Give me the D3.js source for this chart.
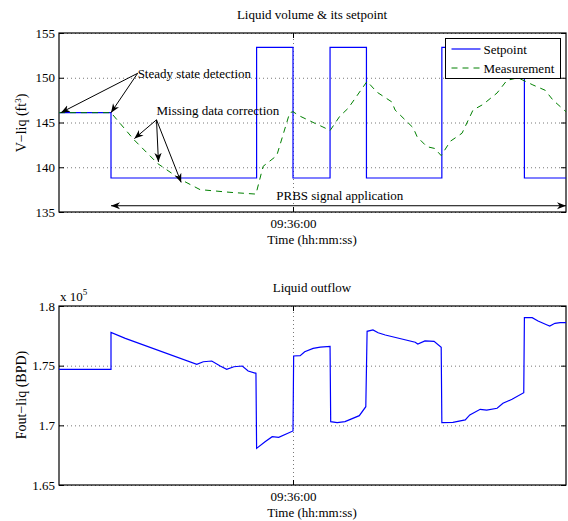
<!DOCTYPE html>
<html>
<head>
<meta charset="utf-8">
<script src="https://cdn.jsdelivr.net/npm/d3@7"></script>
<style>
  body { margin: 0; background: #fff; }
  svg text { font-family: 'Liberation Serif', 'Times New Roman', Times, 'DejaVu Serif', serif !important; fill: #000; }
</style>
</head>
<body>
<svg id="drawing_region"></svg>
<script>
// time is seconds after t0
const t0 = "09:30:00";
const tEnd = 780;
const xTickLabels = ["09:36:00"];

// setpoint (step)
const spTime  = [0, 80, 304, 360, 417, 473, 589, 716, 780];
const spValue = [146.1, 138.8, 153.4, 138.8, 153.4, 138.8, 153.4, 138.8, 138.8];

// measurement
const mTime  = [0, 80, 115, 152, 188, 217, 263, 303, 314, 335, 355, 360, 371, 394, 406, 417, 432, 445, 474, 489, 512, 517, 545, 551, 566, 578, 588, 602, 620, 637, 652, 674, 689, 706, 729, 748, 760, 780];
const mValue = [146.1, 146.1, 143.1, 140.4, 138.6, 137.5, 137.2, 137.0, 140.1, 141.3, 146.1, 146.2, 145.7, 144.9, 144.5, 144.1, 145.7, 146.6, 149.6, 148.4, 147.3, 146.4, 144.4, 143.4, 142.3, 142.1, 141.3, 142.9, 143.8, 146.4, 147.0, 148.3, 149.7, 150.0, 149.2, 148.6, 147.5, 146.2];

// liquid outflow
const fTime  = [0, 80, 80, 102, 212, 222, 235, 248, 258, 269, 282, 291, 303, 304, 317, 328, 338, 360, 361, 371, 378, 391, 402, 417, 418, 428, 440, 462, 472, 474, 483, 491, 502, 548, 552, 563, 577, 588, 589, 606, 625, 632, 648, 658, 674, 683, 697, 715, 716, 728, 737, 751, 755, 763, 771, 780];
const fValue = [174690, 174690, 177790, 177290, 175110, 175330, 175390, 174970, 174690, 174910, 174970, 174550, 174360, 168070, 168630, 169050, 169000, 169530, 175810, 175840, 176170, 176450, 176560, 176620, 170310, 170220, 170310, 170810, 171560, 177880, 177990, 177760, 177570, 176960, 176810, 177070, 177040, 176540, 170220, 170250, 170450, 170870, 171340, 171280, 171430, 171850, 172180, 172730, 179020, 179020, 178740, 178410, 178320, 178550, 178600, 178600];

const vTicks = [135, 140, 145, 150, 155];
const fTicks = [165000, 170000, 175000, 180000];

const parseT = d3.timeParse("%H:%M:%S");
const base = parseT(t0);
const toDate = s => new Date(base.getTime() + s * 1000);

const svg = d3.select("#drawing_region").attr("width", 568).attr("height", 521);

const left = 59, right = 566;
const x = d3.scaleTime().domain([base, toDate(tEnd)]).range([left, right]);
const xTicks = xTickLabels.map(parseT);

function panel(top, bottom, yDomain, yTicks, yFmt, title) {
    const y = d3.scaleLinear().domain(yDomain).range([bottom, top]);
    const g = svg.append("g");

    // grid
    g.append("g").attr("transform", `translate(${left},0)`)
        .call(d3.axisLeft(y).tickValues(yTicks).tickSize(-(right - left)).tickFormat(""))
        .call(a => a.select(".domain").remove())
        .selectAll("line").attr("stroke", "#555").attr("stroke-dasharray", "1,3").attr("stroke-width", 0.8);
    g.append("g").attr("transform", `translate(0,${bottom})`)
        .call(d3.axisBottom(x).tickValues(xTicks).tickSize(-(bottom - top)).tickFormat(""))
        .call(a => a.select(".domain").remove())
        .selectAll("line").attr("stroke", "#555").attr("stroke-dasharray", "1,3").attr("stroke-width", 0.8);

    // axes with inside ticks
    g.append("g").attr("transform", `translate(${left},0)`)
        .call(d3.axisLeft(y).tickValues(yTicks).tickSizeInner(-5).tickSizeOuter(0).tickPadding(4).tickFormat(yFmt));
    g.append("g").attr("transform", `translate(${right},0)`)
        .call(d3.axisRight(y).tickValues(yTicks).tickSizeInner(-5).tickSizeOuter(0).tickFormat(""));
    g.append("g").attr("transform", `translate(0,${bottom})`)
        .call(d3.axisBottom(x).tickValues(xTicks).tickSizeInner(-5).tickSizeOuter(0).tickPadding(7).tickFormat(d3.timeFormat("%H:%M:%S")));
    g.append("g").attr("transform", `translate(0,${top})`)
        .call(d3.axisTop(x).tickValues(xTicks).tickSizeInner(-5).tickSizeOuter(0).tickFormat(""));
    g.selectAll(".tick text").attr("font-size", 13);
    g.selectAll(".domain").remove();

    g.append("rect").attr("x", left).attr("y", top).attr("width", right - left).attr("height", bottom - top)
        .attr("fill", "none").attr("stroke", "#000").attr("stroke-width", 1.2);

    g.append("text").attr("x", 312).attr("y", top - 14).attr("text-anchor", "middle").attr("font-size", 13).text(title);
    g.append("text").attr("x", 312).attr("y", bottom + 32).attr("text-anchor", "middle").attr("font-size", 13).text("Time (hh:mm:ss)");
    return {g, y};
}

// top panel
const p1 = panel(33, 212, [135, 155], vTicks, d3.format("d"), "Liquid volume & its setpoint");
const yl1 = svg.append("text").attr("transform", "translate(26,123) rotate(-90)").attr("text-anchor", "middle").attr("font-size", 14);
yl1.append("tspan").text("V\u2212liq (ft");
yl1.append("tspan").attr("dy", -5).attr("font-size", 9).text("3");
yl1.append("tspan").attr("dy", 5).text(")");

const stepLine = d3.line().x(d => x(toDate(d[0]))).y(d => p1.y(d[1])).curve(d3.curveStepAfter);
const plainLine1 = d3.line().x(d => x(toDate(d[0]))).y(d => p1.y(d[1]));

p1.g.append("path").datum(d3.zip(spTime, spValue))
    .attr("fill", "none").attr("stroke", "#0000ff").attr("stroke-width", 1.2).attr("d", stepLine);
p1.g.append("path").datum(d3.zip(mTime, mValue))
    .attr("fill", "none").attr("stroke", "#008000").attr("stroke-width", 1).attr("stroke-dasharray", "6,5").attr("d", plainLine1);

// arrow marker
const defs = svg.append("defs");
defs.append("marker").attr("id", "ah").attr("viewBox", "0 0 10 10").attr("refX", 10).attr("refY", 5)
    .attr("markerWidth", 9).attr("markerHeight", 9).attr("markerUnits", "userSpaceOnUse").attr("orient", "auto-start-reverse")
    .append("path").attr("d", "M0,1 L10,5 L0,9 L3,5 Z").attr("fill", "#000");

// annotations (time s, value)
const annStart = [[121, 150.5], [121, 150.5], [150, 145.3], [150, 145.3], [150, 145.3]];
const annEnd   = [[3, 146.1], [80, 146.1], [116, 143.2], [153, 140.6], [188, 138.3]];
annStart.forEach((s, i) => {
    const e = annEnd[i];
    p1.g.append("line")
        .attr("x1", x(toDate(s[0]))).attr("y1", p1.y(s[1]))
        .attr("x2", x(toDate(e[0]))).attr("y2", p1.y(e[1]))
        .attr("stroke", "#000").attr("stroke-width", 1).attr("marker-end", "url(#ah)");
});
p1.g.append("text").attr("x", x(toDate(121))).attr("y", p1.y(150.4) + 4).attr("font-size", 13).text("Steady state detection");
p1.g.append("text").attr("x", x(toDate(150))).attr("y", p1.y(146.3) + 4).attr("font-size", 13).text("Missing data correction");

// PRBS double arrow
p1.g.append("line")
    .attr("x1", x(toDate(80))).attr("y1", p1.y(135.7))
    .attr("x2", x(toDate(780))).attr("y2", p1.y(135.7))
    .attr("stroke", "#000").attr("stroke-width", 1)
    .attr("marker-start", "url(#ah)").attr("marker-end", "url(#ah)");
p1.g.append("text").attr("x", x(toDate(432))).attr("y", p1.y(136.8) + 4).attr("text-anchor", "middle").attr("font-size", 13).text("PRBS signal application");

// legend
const lg = p1.g.append("g").attr("transform", "translate(445.5,38.5)");
lg.append("rect").attr("width", 115).attr("height", 40).attr("fill", "#fff").attr("stroke", "#000").attr("stroke-width", 1);
lg.append("line").attr("x1", 6).attr("x2", 35).attr("y1", 10.5).attr("y2", 10.5).attr("stroke", "#0000ff").attr("stroke-width", 1.2);
lg.append("line").attr("x1", 6).attr("x2", 35).attr("y1", 29.5).attr("y2", 29.5).attr("stroke", "#008000").attr("stroke-dasharray", "6,5");
lg.append("text").attr("x", 38).attr("y", 15).attr("font-size", 13).text("Setpoint");
lg.append("text").attr("x", 38).attr("y", 34).attr("font-size", 13).text("Measurement");

// bottom panel
const p2 = panel(306, 485, [165000, 180000], fTicks, d => d3.format("~g")(d / 1e5), "Liquid outflow");
svg.append("text").attr("transform", "translate(26,395) rotate(-90)").attr("text-anchor", "middle").attr("font-size", 14).text("Fout\u2212liq (BPD)");
const ex = svg.append("text").attr("x", 60).attr("y", 301).attr("font-size", 13);
ex.append("tspan").text("x 10");
ex.append("tspan").attr("dy", -6).attr("font-size", 9).text("5");

const plainLine2 = d3.line().x(d => x(toDate(d[0]))).y(d => p2.y(d[1]));
p2.g.append("path").datum(d3.zip(fTime, fValue))
    .attr("fill", "none").attr("stroke", "#0000ff").attr("stroke-width", 1.2).attr("d", plainLine2);
</script>
</body>
</html>
